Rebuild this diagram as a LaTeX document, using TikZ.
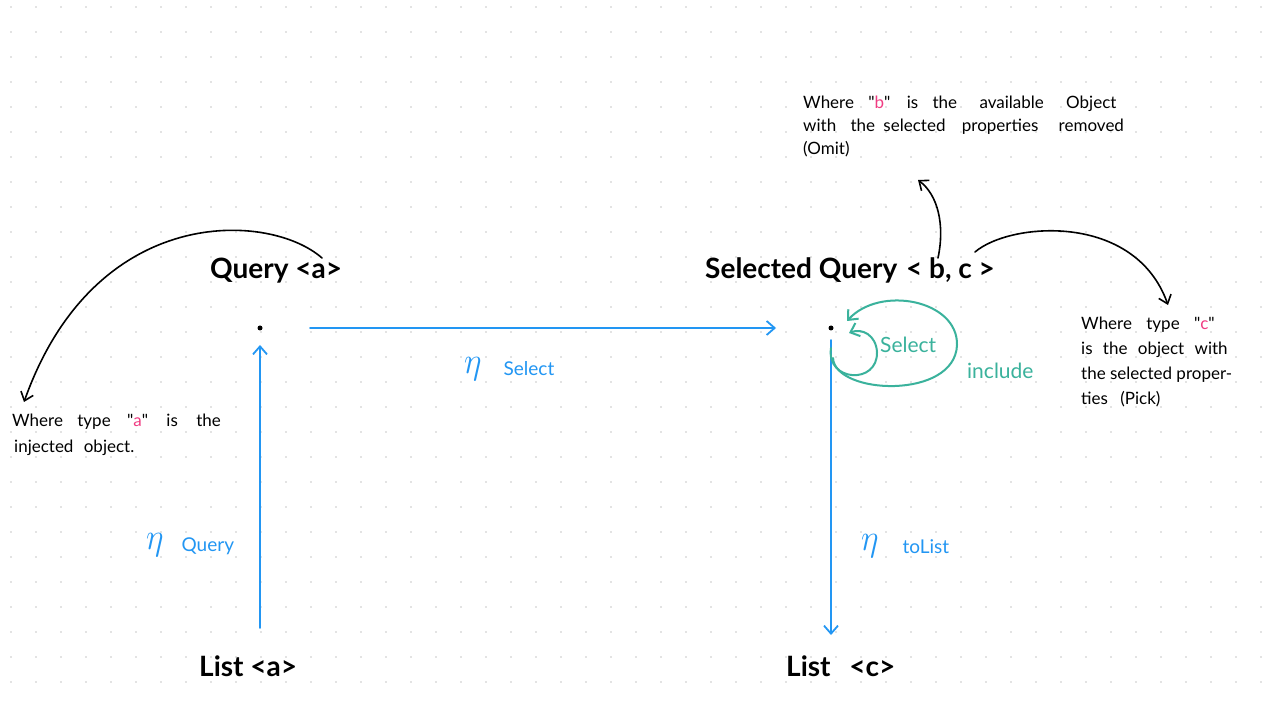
\documentclass[tikz,border=0pt]{standalone}
\usepackage{fontspec}
\setmainfont{Lato}
\usetikzlibrary{arrows.meta}
\definecolor{exblue}{RGB}{34,150,243}
\definecolor{exgreen}{RGB}{58,178,156}
\definecolor{expink}{RGB}{240,60,130}
\definecolor{griddot}{RGB}{200,200,200}
\newcommand{\qq}{\textquotedbl}
\tikzset{
  px/.style={x=1pt,y=-1pt},
  mainlbl/.style={anchor=base west,inner sep=0pt,font=\fontsize{28}{32}\selectfont\bfseries},
  notelbl/.style={anchor=base west,inner sep=0pt,font=\fontsize{17}{23}\selectfont},
  etalbl/.style={anchor=base west,inner sep=0pt,text=exblue,font=\fontsize{19}{23}\selectfont},
  greenlbl/.style={anchor=base west,inner sep=0pt,text=exgreen,font=\fontsize{21}{24}\selectfont},
  dotnode/.style={circle,fill=black,inner sep=0pt,minimum size=5pt},
  bluearrow/.style={draw=exblue,line width=1.8pt,line cap=round,-{Straight Barb[length=8pt,width=14pt,line width=1.8pt]}},
  blackarrow/.style={draw=black,line width=1.6pt,line cap=round,-{Straight Barb[length=8pt,width=13pt,line width=1.6pt]}},
  greenarrow/.style={draw=exgreen,line width=2pt,line cap=round,-{Straight Barb[length=8pt,width=14pt,line width=2pt]}}
}
\newcommand{\etasym}{\raisebox{2pt}{\scalebox{1.35}[1.5]{\fontsize{24}{24}\selectfont$\eta$}}}
\begin{document}
\begin{tikzpicture}[px]
\useasboundingbox (0,0) rectangle (1262,703);
\fill[white] (0,0) rectangle (1262,703);
\foreach \i in {0,...,50}{\foreach \j in {0,...,27}{\fill[griddot] (11+25*\i,7+25*\j) circle (0.9pt);}}
% main labels
\node[mainlbl] (qa) at (210,279) {Query <a>};
\node[mainlbl] (sq) at (705,279) {Selected Query\hspace{2pt} < b, c >};
\node[mainlbl] (la) at (199,676) {List <a>};
\node[mainlbl] (lc) at (786,676) {List\hspace{12pt} <c>};
% dots
\node[dotnode] (dA) at (260,328) {};
\node[dotnode] (dB) at (831,328) {};
% blue connectors
\coordinate (laTop) at (260,628);
\coordinate (dAup) at (260,345);
\coordinate (dAright) at (310,328);
\coordinate (dBleft) at (776,328);
\coordinate (dBdown) at (831,340);
\coordinate (lcTop) at (831,635);
\draw[bluearrow] (laTop) -- (dAup);
\draw[bluearrow] (dAright) -- (dBleft);
\draw[bluearrow] (dBdown) -- (lcTop);
% eta labels
\node[etalbl] (e1) at (464,376) {\etasym\hspace{22pt}Select};
\node[etalbl] (e2) at (146,551) {\etasym\hspace{18pt}Query};
\node[etalbl] (e3) at (861,553) {\etasym\hspace{24pt}toList};
% green loops
\node[greenlbl] (gsel) at (880,353) {Select};
\node[greenlbl] (ginc) at (967,379) {include};
\coordinate (g1s) at (831,348);
\coordinate (g1e) at (849,333);
\draw[greenarrow] (g1s) .. controls (826,382) and (878,385) .. (877,352) .. controls (876,335) and (862,328) .. (g1e);
\coordinate (g2s) at (833,358);
\coordinate (g2e) at (847,321);
\draw[greenarrow] (g2s) .. controls (835,395) and (955,400) .. (957,345) .. controls (958,300) and (880,285) .. (g2e);
% annotation arrows
\coordinate (qaArcS) at (322,258);
\coordinate (noteA) at (24,402);
\draw[blackarrow] (qaArcS) .. controls (270,212) and (95,202) .. (noteA);
\coordinate (sqUp) at (938,258);
\coordinate (noteB) at (918,180);
\draw[blackarrow] (sqUp) .. controls (945,225) and (938,195) .. (noteB);
\coordinate (sqRight) at (975,252);
\coordinate (noteC) at (1168,305);
\draw[blackarrow] (sqRight) .. controls (1010,222) and (1135,212) .. (noteC);
% notes
\node[notelbl] (na1) at (12,427) {Where\hspace{10pt} type\hspace{12pt} \qq\textcolor{expink}{a}\qq\hspace{14pt} is\hspace{14pt} the};
\node[notelbl] (na2) at (14,453) {injected\hspace{6pt} object.};
\node[notelbl] (nb1) at (803,109) {Where\hspace{10pt} \qq\textcolor{expink}{b}\qq\hspace{12pt} is\hspace{10pt} the\hspace{18pt} available\hspace{18pt} Object};
\node[notelbl] (nb2) at (803,132) {with\hspace{10pt} the\hspace{4pt} selected\hspace{12pt} properties\hspace{16pt} removed};
\node[notelbl] (nb3) at (803,155) {(Omit)};
\node[notelbl] (nc1) at (1081,330) {Where\hspace{10pt} type\hspace{10pt} \qq\textcolor{expink}{c}\qq};
\node[notelbl] (nc2) at (1081,355) {is\hspace{6pt} the\hspace{6pt} object\hspace{6pt} with};
\node[notelbl] (nc3) at (1081,380) {the selected proper-};
\node[notelbl] (nc4) at (1081,405) {ties\hspace{8pt} (Pick)};
\end{tikzpicture}
\end{document}
